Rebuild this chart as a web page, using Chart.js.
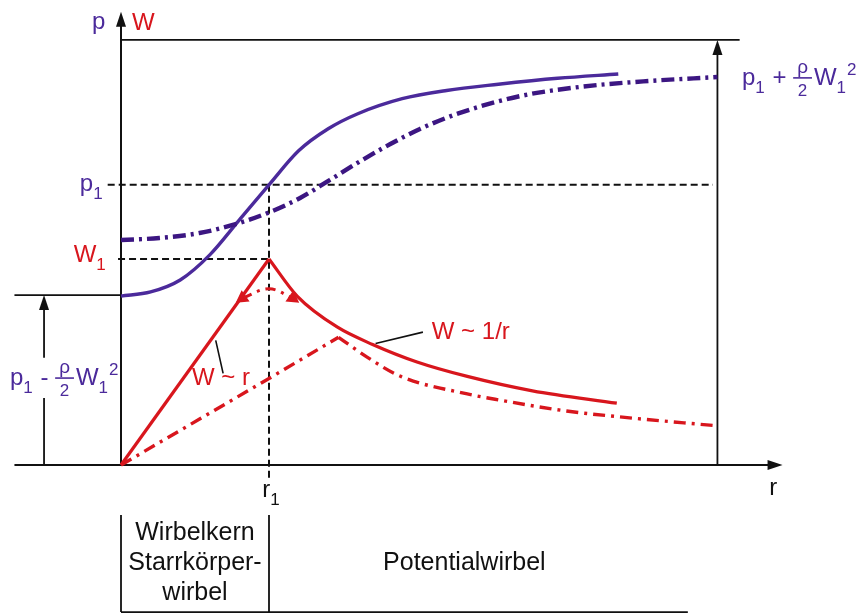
<!DOCTYPE html>
<html>
<head>
<meta charset="utf-8">
<script src="https://cdn.jsdelivr.net/npm/chart.js@4.4.0/dist/chart.umd.min.js"></script>
<style>
  html, body { margin: 0; padding: 0; background: #fff; }
  #wrap { width: 862px; height: 615px; position: relative; }
</style>
</head>
<body>
<div id="wrap"><canvas id="chart"></canvas></div>
<script>
// r in units of r1, values in units of W1 (one shared vertical axis for p and W)
const pIdealR = [0, 0.2, 0.4, 0.6, 0.8, 1.0, 1.2, 1.4, 1.6, 1.9, 2.2, 2.55, 2.95, 3.36];
const pIdealV = [0.82, 0.84, 0.898, 1.02, 1.19, 1.36, 1.525, 1.632, 1.705, 1.778, 1.818, 1.848, 1.877, 1.898];

const pRealR = [0, 0.26, 0.53, 0.80, 1.0, 1.21, 1.41, 1.62, 1.82, 2.02, 2.29, 2.70, 3.10, 3.57, 4.03];
const pRealV = [1.092, 1.102, 1.126, 1.175, 1.226, 1.296, 1.383, 1.476, 1.558, 1.631, 1.709, 1.791, 1.835, 1.864, 1.883];

// W ~ r (Starrkörperwirbel) und W ~ 1/r (Potentialwirbel)
const wCoreR = [0, 1];
const wCoreV = [0, 1];
const wPotR = [1, 1.19, 1.46, 1.70, 2.0, 2.34, 2.78, 3.35];
const wPotV = [1, 0.82, 0.67, 0.585, 0.50, 0.43, 0.36, 0.30];

// reale Geschwindigkeitsverteilung (strichpunktiert)
const wRealUpR = [0, 1.0, 1.47];
const wRealUpV = [0, 0.42, 0.62];
const wRealDownR = [1.47, 1.66, 1.89, 2.34, 2.56, 3.01, 3.35, 4.03];
const wRealDownV = [0.62, 0.525, 0.43, 0.345, 0.315, 0.262, 0.235, 0.19];

// kleiner Übergang an der Spitze
const wTipR = [0.82, 1.0, 1.16];
const wTipV = [0.81, 0.855, 0.81];

// marks on the axes
const r1 = 1;
const W1 = 1;
const p1 = 1.36;
const pMin = 0.825;   // p1 - rho/2 W1^2
const pInf = 2.063;   // p1 + rho/2 W1^2 (obere Linie)
const rEnd = 4.03;

const regionLabels = ["Wirbelkern", "Starrkörper-", "wirbel"];
const potLabel = "Potentialwirbel";

const PURPLE = "#4b2a9b";
const PURPLE_DARK = "#3c1682";
const RED = "#d8161d";
const INK = "#111";
const FONT = '"Liberation Sans", Arial, Helvetica, sans-serif';

function pts(xs, ys) {
  return xs.map((x, i) => ({ x: x, y: ys[i] }));
}

function line(data, color, width, dash, extra) {
  return Object.assign({
    data: data,
    showLine: true,
    borderColor: color,
    backgroundColor: color,
    borderWidth: width,
    borderDash: dash || [],
    pointRadius: 0,
    fill: false,
    cubicInterpolationMode: "monotone",
    borderCapStyle: "butt"
  }, extra || {});
}

function arrowHead(ctx, x, y, dir) {
  // dir: 'up' or 'right'
  ctx.beginPath();
  if (dir === "up") {
    ctx.moveTo(x, y);
    ctx.lineTo(x - 5, y + 15);
    ctx.lineTo(x + 5, y + 15);
  } else {
    ctx.moveTo(x, y);
    ctx.lineTo(x - 15, y - 5);
    ctx.lineTo(x - 15, y + 5);
  }
  ctx.closePath();
  ctx.fill();
}

// parts: [text, kind] kind: '', 'sub', 'sup', 'frac' (text = [num, den])
function rich(ctx, x, y, parts, color, size) {
  ctx.fillStyle = color;
  ctx.strokeStyle = color;
  ctx.textBaseline = "alphabetic";
  ctx.textAlign = "left";
  let cx = x;
  const small = Math.round(size * 0.7);
  const mid = Math.round(size * 0.8);
  parts.forEach(([t, kind]) => {
    if (kind === "sub") {
      ctx.font = small + "px " + FONT;
      ctx.fillText(t, cx, y + 8);
      cx += ctx.measureText(t).width + 1;
    } else if (kind === "sup") {
      ctx.font = small + "px " + FONT;
      ctx.fillText(t, cx, y - 10);
      cx += ctx.measureText(t).width + 1;
    } else if (kind === "frac") {
      ctx.font = mid + "px " + FONT;
      const wn = ctx.measureText(t[0]).width;
      const wd = ctx.measureText(t[1]).width;
      const w = Math.max(wn, wd) + 8;
      ctx.fillText(t[0], cx + (w - wn) / 2, y - 12);
      ctx.font = small + "px " + FONT;
      const wd2 = ctx.measureText(t[1]).width;
      ctx.fillText(t[1], cx + (w - wd2) / 2, y + 11);
      ctx.lineWidth = 1.6;
      ctx.beginPath();
      ctx.moveTo(cx, y - 7);
      ctx.lineTo(cx + w, y - 7);
      ctx.stroke();
      cx += w + 2;
    } else {
      ctx.font = size + "px " + FONT;
      ctx.fillText(t, cx, y);
      cx += ctx.measureText(t).width;
    }
  });
}

const sketch = {
  id: "sketch",
  beforeDatasetsDraw(chart) {
    const ctx = chart.ctx;
    const X = v => chart.scales.x.getPixelForValue(v);
    const Y = v => chart.scales.y.getPixelForValue(v);
    ctx.save();

    // dashed helper lines
    ctx.strokeStyle = INK;
    ctx.lineWidth = 2;
    ctx.setLineDash([7, 4]);
    ctx.beginPath();
    ctx.moveTo(X(-0.09), Y(p1)); ctx.lineTo(X(rEnd - 0.03), Y(p1));
    ctx.moveTo(X(-0.02), Y(W1)); ctx.lineTo(X(r1), Y(W1));
    ctx.moveTo(X(r1), Y(p1)); ctx.lineTo(X(r1), Y(-0.08));
    ctx.stroke();
    ctx.setLineDash([]);

    // axes
    ctx.lineWidth = 2;
    ctx.fillStyle = INK;
    ctx.beginPath();
    ctx.moveTo(X(0), Y(0)); ctx.lineTo(X(0), Y(2.16));
    ctx.moveTo(X(-0.72), Y(0)); ctx.lineTo(X(4.44), Y(0));
    ctx.stroke();
    arrowHead(ctx, X(0), Y(2.2), "up");
    arrowHead(ctx, X(4.47), Y(0), "right");

    // upper line and p_inf arrow
    ctx.lineWidth = 1.8;
    ctx.beginPath();
    ctx.moveTo(X(0), Y(pInf)); ctx.lineTo(X(4.18), Y(pInf));
    ctx.moveTo(X(rEnd), Y(0)); ctx.lineTo(X(rEnd), Y(pInf) + 10);
    ctx.stroke();
    arrowHead(ctx, X(rEnd), Y(pInf), "up");

    // left: p1 - rho/2 W1^2
    const xl = -0.52;
    ctx.beginPath();
    ctx.moveTo(X(-0.72), Y(pMin)); ctx.lineTo(X(0), Y(pMin));
    ctx.moveTo(X(xl), Y(0)); ctx.lineTo(X(xl), Y(0.325));
    ctx.moveTo(X(xl), Y(0.52)); ctx.lineTo(X(xl), Y(pMin) + 10);
    ctx.stroke();
    arrowHead(ctx, X(xl), Y(pMin), "up");

    // region box below the axis
    ctx.beginPath();
    ctx.moveTo(X(0), Y(-0.243)); ctx.lineTo(X(0), Y(-0.714));
    ctx.moveTo(X(r1), Y(-0.243)); ctx.lineTo(X(r1), Y(-0.714));
    ctx.moveTo(X(0), Y(-0.714)); ctx.lineTo(X(3.83), Y(-0.714));
    ctx.stroke();

    // leader lines
    ctx.lineWidth = 1.6;
    ctx.beginPath();
    ctx.moveTo(X(0.64), Y(0.605)); ctx.lineTo(X(0.69), Y(0.445));
    ctx.moveTo(X(1.72), Y(0.59)); ctx.lineTo(X(2.04), Y(0.645));
    ctx.stroke();
    ctx.restore();
  },
  afterDatasetsDraw(chart) {
    const ctx = chart.ctx;
    const X = v => chart.scales.x.getPixelForValue(v);
    const Y = v => chart.scales.y.getPixelForValue(v);
    ctx.save();
    const S = 24;

    rich(ctx, X(-0.196), Y(2.117), [["p", ""]], PURPLE, S);
    rich(ctx, X(0.074), Y(2.112), [["W", ""]], RED, S);
    rich(ctx, X(-0.278), Y(1.33), [["p", ""], ["1", "sub"]], PURPLE, S);
    rich(ctx, X(-0.32), Y(0.985), [["W", ""], ["1", "sub"]], RED, S);
    rich(ctx, X(4.196), Y(1.845), [["p", ""], ["1", "sub"], [" + ", ""], [["ρ", "2"], "frac"], ["W", ""], ["1", "sub"], ["2", "sup"]], PURPLE, S);
    rich(ctx, X(-0.75), Y(0.388), [["p", ""], ["1", "sub"], [" - ", ""], [["ρ", "2"], "frac"], ["W", ""], ["1", "sub"], ["2", "sup"]], PURPLE, S);

    rich(ctx, X(0.48), Y(0.388), [["W ~ r", ""]], RED, S);
    rich(ctx, X(2.1), Y(0.612), [["W ~ 1/r", ""]], RED, S);

    rich(ctx, X(0.955), Y(-0.155), [["r", ""], ["1", "sub"]], INK, S);
    rich(ctx, X(4.38), Y(-0.145), [["r", ""]], INK, S);

    ctx.fillStyle = INK;
    ctx.textAlign = "center";
    ctx.textBaseline = "alphabetic";
    ctx.font = "25px " + FONT;
    const rows = [-0.365, -0.51, -0.655];
    regionLabels.forEach((t, i) => ctx.fillText(t, X(0.5), Y(rows[i])));
    ctx.fillText(potLabel, X(2.32), Y(-0.51));
    ctx.restore();
  }
};

const chart = new Chart(document.getElementById("chart"), {
  type: "scatter",
  data: {
    datasets: [
      line(pts(pRealR, pRealV), PURPLE_DARK, 4.4, [13, 5, 3, 5]),
      line(pts(pIdealR, pIdealV), PURPLE, 3.4),
      line(pts(wRealUpR, wRealUpV), RED, 3.4, [12, 6, 3, 6], { cubicInterpolationMode: "default", tension: 0 }),
      line(pts(wRealDownR, wRealDownV), RED, 3.4, [12, 6, 3, 6]),
      line(pts(wCoreR, wCoreV), RED, 3.2, null, { cubicInterpolationMode: "default", tension: 0 }),
      line(pts(wPotR, wPotV), RED, 3.2),
      line(pts(wTipR, wTipV), RED, 3, [10, 6, 3, 6], {
        cubicInterpolationMode: "default",
        tension: 0.4,
        pointStyle: "triangle",
        pointRadius: [5, 0, 5],
        rotation: [235, 0, 125]
      })
    ]
  },
  options: {
    responsive: true,
    maintainAspectRatio: false,
    devicePixelRatio: 1,
    animation: false,
    layout: { padding: 0, autoPadding: false },
    plugins: { legend: { display: false }, tooltip: { enabled: false } },
    scales: {
      x: { type: "linear", min: -0.8176, max: 5.0068, display: false },
      y: { type: "linear", min: -0.728, max: 2.257, display: false }
    }
  },
  plugins: [sketch]
});
</script>
</body>
</html>
